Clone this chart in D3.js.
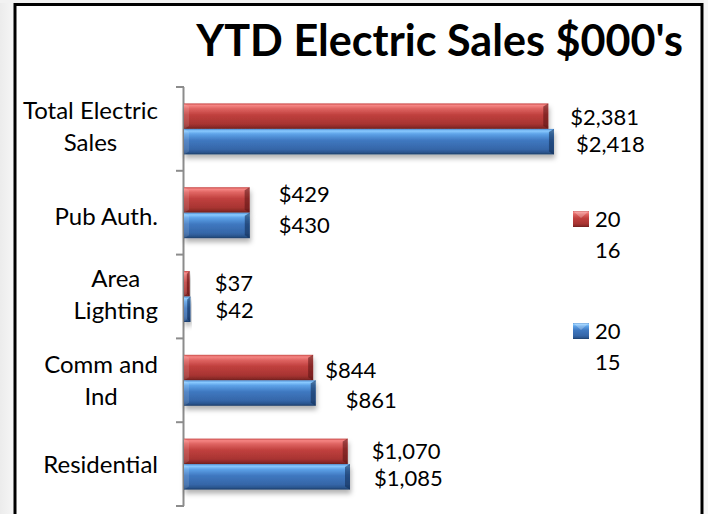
<!DOCTYPE html>
<html><head><meta charset="utf-8">
<script src="https://cdn.jsdelivr.net/npm/d3@7"></script>
<style>html,body{margin:0;padding:0;background:#fff;}svg{display:block;}</style>
</head><body>
<svg id="c" width="708" height="514"></svg>
<script>
const categories = ["Total Electric Sales", "Pub Auth.", "Area Lighting", "Comm and Ind", "Residential"];
const categoryLines = [["Total Electric", "Sales"], ["Pub Auth."], ["Area", "Lighting"], ["Comm and", "Ind"], ["Residential"]];
const values2016 = [2381, 429, 37, 844, 1070];
const values2015 = [2418, 430, 42, 861, 1085];
const seriesNames = ["2016", "2015"];
// manual label nudges (as placed in the original)
const labelDx2016 = [22, 29, 25, 12, 24];
const labelDy2016 = [1, -6, -1, 2, 0];
const labelDx2015 = [22, 29, 25, 30, 24];
const labelDy2015 = [2, 0, 1, 7, 1];
const catDy = [-2, 4, -2, 0, 0];

const svg = d3.select("#c");
const font = "Lato, 'Open Sans', sans-serif";

const defs = svg.append("defs");
const lg = defs.append("linearGradient").attr("id","bg").attr("x1",0).attr("x2",1).attr("y1",0).attr("y2",0);
lg.append("stop").attr("offset",0).attr("stop-color","#ececec");
lg.append("stop").attr("offset",1).attr("stop-color","#f6f6f6");
svg.append("rect").attr("x",0).attr("y",0).attr("width",14).attr("height",514).attr("fill","url(#bg)");
svg.append("rect").attr("x",0).attr("y",0).attr("width",708).attr("height",3).attr("fill","#f2f2f2");
svg.append("rect").attr("x",704).attr("y",0).attr("width",4).attr("height",514).attr("fill","#f7f7f7");
svg.append("rect").attr("x",15).attr("y",4.5).attr("width",687).attr("height",520)
  .attr("fill","#fff").attr("stroke","#000").attr("stroke-width",3);

function barGrad(id, stops){
  const g = defs.append("linearGradient").attr("id",id).attr("x1",0).attr("x2",0).attr("y1",0).attr("y2",1);
  stops.forEach(s => g.append("stop").attr("offset",s[0]).attr("stop-color",s[1]));
}
barGrad("gRed", [[0,"#c84a48"],[0.08,"#f58583"],[0.2,"#e06563"],[0.45,"#c0403e"],[0.8,"#a83432"],[0.92,"#8c2a28"],[1,"#6e1e1c"]]);
barGrad("gBlue", [[0,"#4a8ad0"],[0.08,"#8acaff"],[0.2,"#5da2e8"],[0.45,"#3f78c0"],[0.8,"#3566a8"],[0.92,"#2a558e"],[1,"#1c3d68"]]);
const f = defs.append("filter").attr("id","sh").attr("x","-5%").attr("y","-30%").attr("width","115%").attr("height","190%");
f.append("feDropShadow").attr("dx",1).attr("dy",4).attr("stdDeviation",2.5).attr("flood-color","#000").attr("flood-opacity",0.3);

// Title
const title = svg.append("text").attr("x",683).attr("y",56).attr("text-anchor","end")
  .attr("font-family",font).attr("font-weight","bold").attr("font-size",37).attr("fill","#000")
  .text("YTD Electric Sales $000's");
const tw = title.node().getComputedTextLength();
title.attr("font-size", 37 * 487 / tw);

// Scales
const x = d3.scaleLinear().domain([0, 3000]).range([184, 643]);
const y = d3.scaleBand().domain(categories).range([87, 506]).paddingInner(0).paddingOuter(0);
const barH = 25.5;

// axis line with ticks at band boundaries
const axis = svg.append("g");
axis.append("line").attr("x1",183.5).attr("x2",183.5).attr("y1",y.range()[0]).attr("y2",y.range()[1])
  .attr("stroke","#8c8c8c").attr("stroke-width",2);
const bounds = categories.map(c => y(c)).concat([y.range()[1]]);
axis.selectAll("line.tk").data(bounds).join("line").attr("class","tk")
  .attr("x1",176).attr("x2",184).attr("y1",d=>d).attr("y2",d=>d)
  .attr("stroke","#8c8c8c").attr("stroke-width",2);

// category labels: box right-aligned at 158, lines centered within the box
categories.forEach((c,i) => {
  const lines = categoryLines[i];
  const cy = y(c) + y.bandwidth()/2 + catDy[i];
  const lh = 32;
  const t = svg.append("text").attr("text-anchor","middle").attr("font-family",font)
    .attr("font-size",24).attr("fill","#000");
  const spans = lines.map((ln,j) => t.append("tspan").attr("y", cy - (lines.length-1)*lh/2 + j*lh + 8.5).text(ln));
  const maxW = d3.max(spans, s => s.node().getComputedTextLength());
  spans.forEach(s => s.attr("x", 158 - maxW/2));
});

// bars
function drawBar(g, x0, x1, yy, grad, dark){
  const w = Math.max(x1 - x0, 1);
  const bg = g.append("g").attr("filter","url(#sh)");
  bg.append("rect").attr("x",x0).attr("y",yy).attr("width",w).attr("height",barH).attr("fill",`url(#${grad})`);
  const bw = Math.min(5, w/2);
  bg.append("polygon").attr("points",
    `${x0+w-bw},${yy+3} ${x0+w},${yy} ${x0+w},${yy+barH} ${x0+w-bw},${yy+barH-3}`)
    .attr("fill",dark).attr("opacity",0.55);
  bg.append("polygon").attr("points",
    `${x0},${yy} ${x0+bw},${yy+3} ${x0+bw},${yy+barH-3} ${x0},${yy+barH}`)
    .attr("fill","#fff").attr("opacity",0.12);
}
const barsG = svg.append("g");
categories.forEach((c,i) => {
  const cy = y(c) + y.bandwidth()/2;
  drawBar(barsG, x(0), x(values2016[i]), cy - barH, "gRed", "#5a1414");
  drawBar(barsG, x(0), x(values2015[i]), cy, "gBlue", "#102a50");
});

// data labels
const fmt = d => "$" + d3.format(",")(d);
const lab = svg.append("g").attr("font-family",font).attr("font-size",22).attr("fill","#000");
categories.forEach((c,i) => {
  const cy = y(c) + y.bandwidth()/2;
  lab.append("text").attr("x", x(values2016[i]) + labelDx2016[i]).attr("y", cy - barH/2 + labelDy2016[i] + 8).text(fmt(values2016[i]));
  lab.append("text").attr("x", x(values2015[i]) + labelDx2015[i]).attr("y", cy + barH/2 + labelDy2015[i] + 8).text(fmt(values2015[i]));
});

// legend
const legY = [211, 323];
const legG = ["gRed","gBlue"];
seriesNames.forEach((s,i) => {
  const g = svg.append("g");
  g.append("rect").attr("x",573).attr("y",legY[i]).attr("width",16).attr("height",16).attr("fill",`url(#${legG[i]})`);
  g.append("polygon").attr("points",`${573},${legY[i]} ${589},${legY[i]} ${581},${legY[i]+7}`).attr("fill","#fff").attr("opacity",0.25);
  const t = g.append("text").attr("font-family",font).attr("font-size",22).attr("fill","#000");
  t.append("tspan").attr("x",595).attr("y",legY[i]+16).text(s.slice(0,2));
  t.append("tspan").attr("x",595).attr("y",legY[i]+47).text(s.slice(2));
});
</script>
</body></html>
